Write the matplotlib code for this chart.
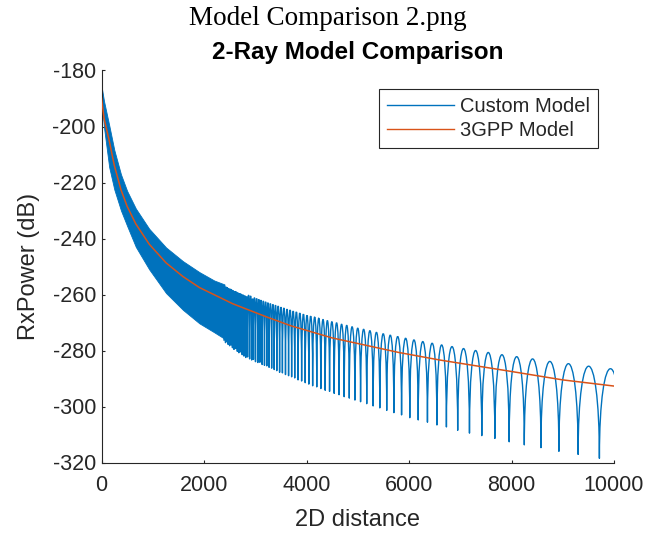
import numpy as np
import matplotlib
matplotlib.use('Agg')
import matplotlib.pyplot as plt
from matplotlib.path import Path
from matplotlib.patches import PathPatch
from matplotlib.lines import Line2D

plt.rcParams.update({'font.family': ['Liberation Sans', 'DejaVu Sans'],
                     'axes.unicode_minus': False})

blue = '#0072BD'
orange = '#D95319'
dark = '#262626'

# 3GPP model (smooth curve)
gpp_x = [0, 50, 150, 250, 380, 500, 670, 930, 1260, 1590, 1910, 2560, 3220,
         3700, 4500, 5800, 6600, 7900, 9000, 10000]
gpp_y = [-189.9, -197.1, -205.0, -213.9, -222.6, -228.5, -234.8, -242.0, -248.7,
         -253.6, -257.5, -263.3, -268.0, -271.2, -275.5, -280.7, -283.4, -287.2,
         -290.5, -292.7]

# custom model, dense part: upper and lower extent of the oscillation
dense_x = [0, 50, 150, 250, 380, 500, 670, 930, 1260, 1590, 1910, 2200, 2400]
dense_top = [-185.5, -191.0, -199.5, -208.4, -217.1, -223.0, -229.3, -236.5, -243.2,
             -248.1, -252.0, -255.0, -256.4]
dense_bot = [-190.0, -200.5, -214.5, -222.5, -230.0, -235.5, -243.0, -251.0, -259.5,
             -265.5, -270.3, -273.5, -275.8]

# custom model, resolved lobes: null positions / depths and lobe peaks
null_x = [2390, 2420, 2445, 2470, 2500, 2530, 2555, 2585, 2620, 2650, 2680, 2715,
          2745, 2780, 2815, 2850, 2890, 2930, 2965, 3005, 3050, 3090, 3135, 3180,
          3225, 3270, 3320, 3370, 3420, 3475, 3530, 3590, 3650, 3710, 3770, 3835,
          3905, 3975, 4045, 4120, 4200, 4280, 4365, 4450, 4540, 4635, 4735, 4835,
          4945, 5055, 5175, 5300, 5430, 5565, 5705, 5855, 6015, 6180, 6360, 6545,
          6730, 6950, 7180, 7420, 7675, 7955, 8250, 8575, 8925, 9300, 9715, 10150]
null_y = [-276.5, -277.2, -276.8, -277.8, -278.3, -278.0, -279.0, -279.6, -279.3,
          -280.3, -280.8, -280.5, -281.5,
          -282.0, -282.5, -282.3, -283.0, -283.4, -283.2, -284.0, -284.3, -284.2,
          -285.0, -285.3, -285.5, -286.0, -286.3, -286.8, -287.2, -287.8, -288.0,
          -288.6, -289.0, -289.4, -289.8, -290.5, -290.9, -291.5, -292.0, -292.6,
          -293.0, -293.6, -294.2, -294.6, -295.3, -295.8, -296.5, -297.0, -297.7,
          -298.3, -299.0, -299.8, -300.5, -301.4, -302.2, -303.0, -304.0, -304.8,
          -305.6, -306.6, -307.3, -308.5, -309.5, -310.4, -311.4, -312.6, -313.7,
          -314.7, -316.0, -317.1, -318.5, -319.5]
peak_y = [-256.4, -256.6, -256.8, -257.1, -257.3, -257.6, -257.8, -258.1, -258.3,
          -258.6, -258.8, -259.1, -259.3,
          -259.6, -259.9, -260.1, -260.4, -260.7, -261.0, -261.3, -261.6, -261.9,
          -262.2, -262.5, -262.8, -263.1, -263.4, -263.7, -264.0, -264.4, -264.7,
          -265.1, -265.4, -265.8, -266.1, -266.5, -266.9, -267.3, -267.6, -268.0,
          -268.4, -268.9, -269.3, -269.7, -270.1, -270.6, -271.0, -271.5, -272.0,
          -272.4, -272.9, -273.5, -274.0, -274.5, -275.0, -275.6, -276.2, -276.8,
          -277.4, -278.0, -278.6, -279.3, -280.0, -280.7, -281.5, -282.2, -283.0,
          -283.9, -284.7, -285.6, -286.5]

fig = plt.figure(figsize=(6.55, 5.33), dpi=100)
ax = fig.add_axes([101.5/655, 1-462.5/533, (614-101.5)/655, (462.5-70.5)/533])

ax.fill_between(dense_x, dense_bot, dense_top, color=blue, lw=0.6, zorder=2)

# each lobe: cubic bezier from null to null, rounded top at the peak value
verts = [(null_x[0], null_y[0])]
codes = [Path.MOVETO]
for i in range(len(peak_y)):
    xa, ya = null_x[i], null_y[i]
    xb, yb = null_x[i+1], null_y[i+1]
    c = (peak_y[i] - (ya + yb) / 8.0) / 0.75
    verts += [(xa, c), (xb, c), (xb, yb)]
    codes += [Path.CURVE4] * 3
lobes = PathPatch(Path(verts, codes), fill=False, edgecolor=blue, lw=1.0,
                  joinstyle='round', zorder=2)
ax.add_patch(lobes)

ax.plot(gpp_x, gpp_y, color=orange, lw=1.1, zorder=3)

ax.set_xlim(0, 10000)
ax.set_ylim(-320, -180)
ax.set_xticks(np.arange(0, 10001, 2000))
ax.set_yticks(np.arange(-320, -179, 20))
for s in ['top', 'right']:
    ax.spines[s].set_visible(False)
for s in ['left', 'bottom']:
    ax.spines[s].set_color(dark)
    ax.spines[s].set_linewidth(0.8)
ax.tick_params(direction='in', length=2.5, width=0.8, colors=dark,
               labelsize=15.5, labelcolor=dark)
ax.tick_params(axis='x', pad=9)
ax.tick_params(axis='y', pad=4)

ax.set_xlabel('2D distance', fontsize=17, color=dark, labelpad=9)
ax.set_ylabel('RxPower (dB)', fontsize=17, color=dark, labelpad=9)
ax.set_title('2-Ray Model Comparison', fontsize=17.5, fontweight='bold',
             color='black', pad=8)
fig.text(0.5, 1-25/533, 'Model Comparison 2.png', ha='center', va='baseline',
         fontsize=19.5, family='Liberation Serif')

handles = [Line2D([], [], color=blue, lw=1.0), Line2D([], [], color=orange, lw=1.0)]
leg = ax.legend(handles, ['Custom Model', '3GPP Model'], loc='upper right',
                bbox_to_anchor=(598/655, 1-89/533), bbox_transform=fig.transFigure,
                borderaxespad=0, fontsize=14.5, handlelength=3.3, handletextpad=0.3,
                borderpad=0.4, labelspacing=0.25, fancybox=False, framealpha=1)
leg.get_frame().set_edgecolor(dark)
leg.get_frame().set_linewidth(0.8)
for t in leg.get_texts():
    t.set_color(dark)

fig.savefig('out.png', dpi=100)
